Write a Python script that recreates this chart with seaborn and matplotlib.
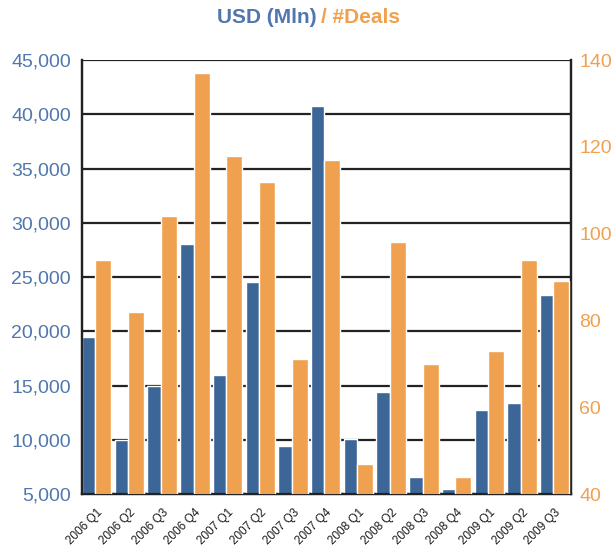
import matplotlib
matplotlib.use("Agg")
import matplotlib.pyplot as plt
import matplotlib.ticker as mticker
import numpy as np
import pandas as pd
import seaborn as sns

# data
quarters = ["2006 Q1", "2006 Q2", "2006 Q3", "2006 Q4",
            "2007 Q1", "2007 Q2", "2007 Q3", "2007 Q4",
            "2008 Q1", "2008 Q2", "2008 Q3", "2008 Q4",
            "2009 Q1", "2009 Q2", "2009 Q3"]
usd_mln = [19500, 10000, 15000, 28000, 16000, 24500, 9400, 40800,
           10100, 14400, 6600, 5500, 12700, 13400, 23300]
num_deals = [94, 82, 104, 137, 118, 112, 71, 117,
             47, 98, 70, 44, 73, 94, 89]

BLUE = "#3b6697"
ORANGE = "#efa14f"
BLUE_TXT = "#5077ad"
ORANGE_TXT = "#f0a04f"

sns.set_style("white")
plt.rcParams["font.family"] = ["Liberation Sans", "DejaVu Sans"]

series = ["USD", "Deals"]
df_usd = pd.DataFrame({"quarter": quarters + quarters,
                       "series": ["USD"] * 15 + ["Deals"] * 15,
                       "value": usd_mln + [np.nan] * 15})
df_deals = pd.DataFrame({"quarter": quarters + quarters,
                         "series": ["USD"] * 15 + ["Deals"] * 15,
                         "value": [np.nan] * 15 + num_deals})

fig = plt.figure(figsize=(6.14, 5.51), dpi=100)
ax = fig.add_axes([0.1336, 0.1034, 0.7964, 0.7876])
ax2 = ax.twinx()

sns.barplot(data=df_usd, x="quarter", y="value", hue="series", hue_order=series,
            palette=[BLUE, ORANGE], width=0.9, saturation=1, legend=False,
            errorbar=None, ax=ax, zorder=3)
sns.barplot(data=df_deals, x="quarter", y="value", hue="series", hue_order=series,
            palette=[BLUE, ORANGE], width=0.9, saturation=1, legend=False,
            errorbar=None, ax=ax2, zorder=3)

# blue bars a bit narrower, orange a bit wider, as in the original
for p in ax.patches:
    p.set_width(p.get_width() * 0.91)
for p in ax2.patches:
    w = p.get_width()
    p.set_x(p.get_x() - w * 0.09)
    p.set_width(w * 1.09)

ax.set_xlim(-0.45, 14.5)
ax.set_ylim(5000, 45000)
ax.yaxis.set_major_locator(mticker.MultipleLocator(5000))
ax.yaxis.set_major_formatter(mticker.StrMethodFormatter("{x:,.0f}"))
ax2.set_ylim(40, 140)
ax2.yaxis.set_major_locator(mticker.MultipleLocator(20))

ax.grid(axis="y", color="#222222", linewidth=1.6, zorder=0)
ax.set_axisbelow(True)
ax2.grid(False)

for a in (ax, ax2):
    a.set_xlabel("")
    a.set_ylabel("")
    for side in ("left", "right", "bottom"):
        a.spines[side].set_color("#222222")
        a.spines[side].set_linewidth(1.6)
    a.spines["top"].set_visible(False)

ax.tick_params(axis="y", length=0, pad=8, labelsize=14, labelcolor=BLUE_TXT)
ax2.tick_params(axis="y", length=0, pad=6, labelsize=14, labelcolor=ORANGE_TXT)
ax.tick_params(axis="x", length=0, pad=9)
ax.set_xticks(range(len(quarters)))
ax.set_xticklabels(quarters, rotation=45, ha="right", rotation_mode="anchor",
                   fontsize=8.5, color="#1a1a1a")

fig.text(0.515, 0.968, "USD (Mln)", color=BLUE_TXT, fontsize=15,
         fontweight="bold", ha="right", va="center")
fig.text(0.523, 0.968, "/ #Deals", color=ORANGE_TXT, fontsize=15,
         fontweight="bold", ha="left", va="center")

fig.savefig("out.png", dpi=100)
